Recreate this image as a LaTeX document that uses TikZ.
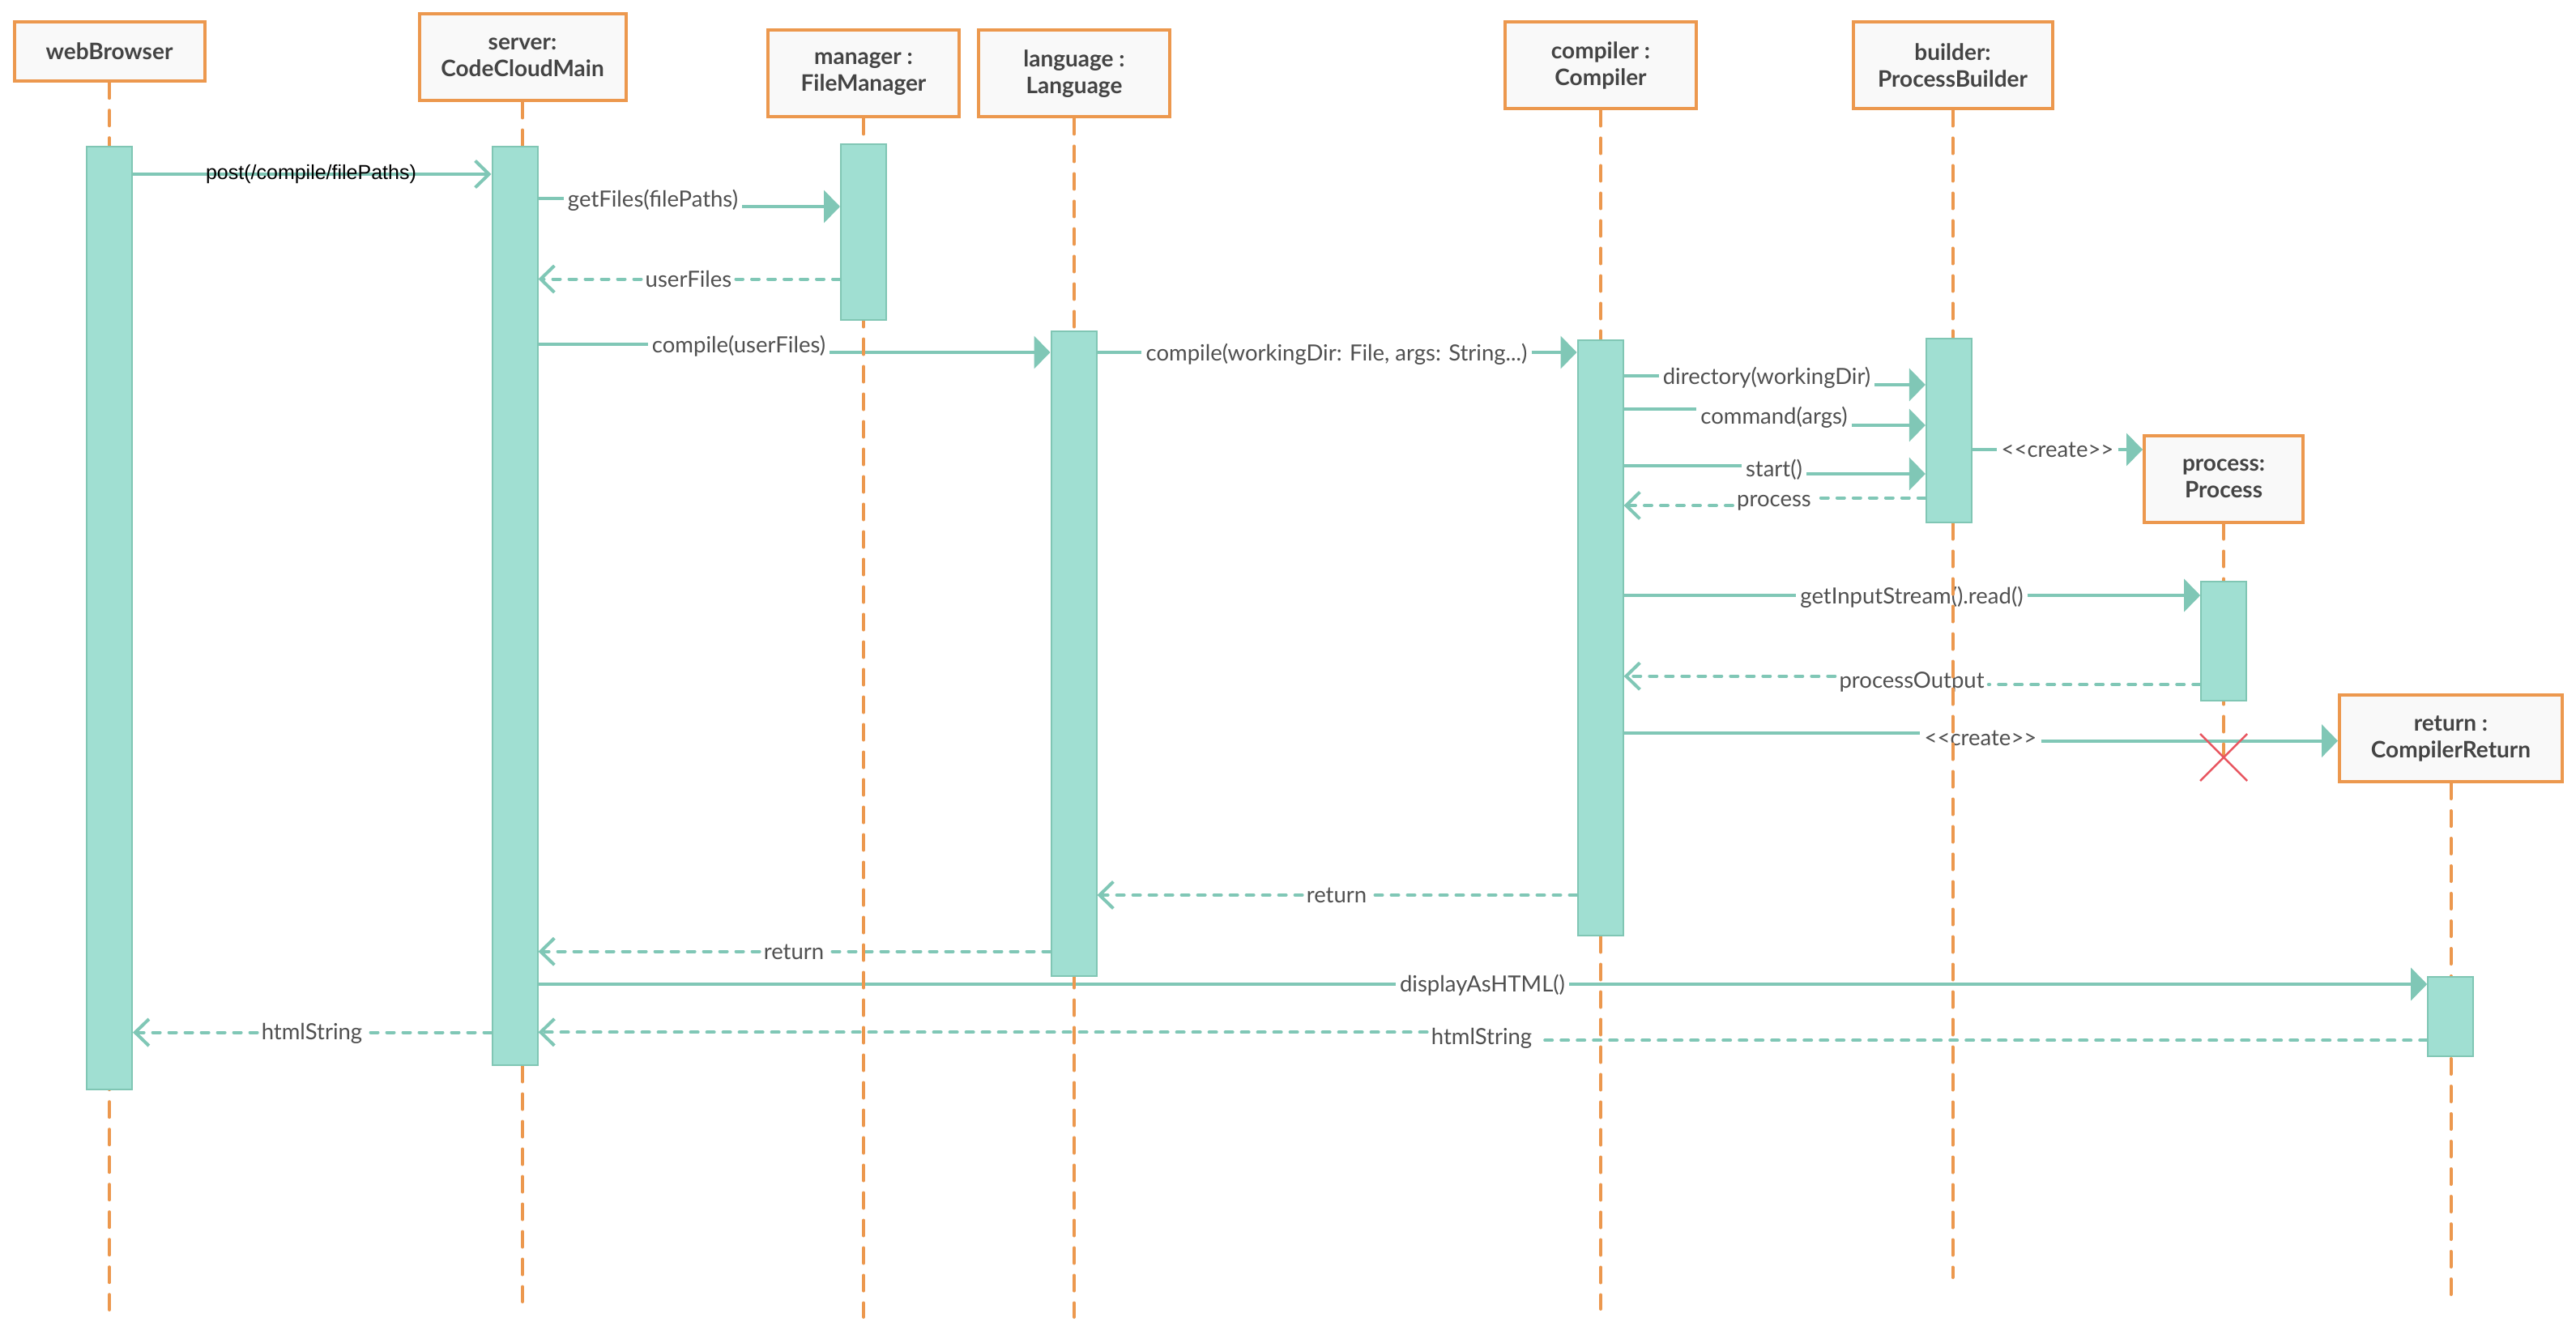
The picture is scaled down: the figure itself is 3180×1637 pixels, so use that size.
\documentclass[tikz,border=0pt]{standalone}
\usepackage{fontspec}
\setmainfont{Lato}
\newfontfamily\arialfont{Liberation Sans}
\usetikzlibrary{arrows.meta}
\definecolor{lifeorange}{RGB}{236,152,78}
\definecolor{boxfill}{RGB}{249,249,249}
\definecolor{titlegray}{RGB}{68,68,68}
\definecolor{labelgray}{RGB}{80,80,80}
\definecolor{actfill}{RGB}{160,223,210}
\definecolor{actborder}{RGB}{128,198,180}
\definecolor{msgteal}{RGB}{128,199,182}
\definecolor{xred}{RGB}{232,86,96}
\pgfdeclarelayer{msgs}
\pgfdeclarelayer{lifes}
\pgfsetlayers{msgs,lifes,main}
\begin{document}
\begin{tikzpicture}[x=1pt,y=-1pt,
  obj/.style={draw=lifeorange, line width=4pt, fill=boxfill, text=titlegray,
    font=\fontsize{28}{33}\selectfont\bfseries, align=center, inner sep=0pt},
  act/.style={draw=actborder, line width=2pt, fill=actfill, inner sep=0pt,
    minimum width=56pt, anchor=north},
  life/.style={draw=lifeorange, line width=4pt, line cap=round, dash pattern=on 19pt off 15pt},
  msg/.style={draw=msgteal, line width=4pt},
  retmsg/.style={msg, line cap=round, dash pattern=on 9pt off 11pt},
  synarr/.style={-{Triangle[length=20pt,width=40pt]}},
  openarr/.style={-{Straight Barb[length=17pt,width=33pt]}},
  lbl/.style={text=labelgray, font=\fontsize{27.5}{32}\selectfont, inner xsep=5pt, inner ysep=0pt}
]
\begin{pgfonlayer}{msgs}
\fill[white] (0,0) rectangle (3180,1637);
\end{pgfonlayer}
\useasboundingbox (0,0) rectangle (3180,1637);

% object boxes
\node[obj, minimum width=235pt, minimum height=73pt] (wb) at (135,63.7) {webBrowser};
\node[obj, minimum width=255pt, minimum height=107pt] (srv) at (645,71) {server:\\CodeCloudMain};
\node[obj, minimum width=236pt, minimum height=107pt] (mgr) at (1066,91) {manager :\\FileManager};
\node[obj, minimum width=236pt, minimum height=107pt] (lng) at (1326,91) {language :\\Language};
\node[obj, minimum width=236pt, minimum height=107pt] (cmp) at (1976,81) {compiler :\\Compiler};
\node[obj, minimum width=246pt, minimum height=107pt] (bld) at (2410.5,81) {builder:\\ProcessBuilder};
\node[obj, minimum width=196pt, minimum height=107pt] (prc) at (2745,591) {process:\\Process};
\node[obj, minimum width=275pt, minimum height=107pt] (rtn) at (3025.5,911.5) {return :\\CompilerReturn};

% activation bars
\node[act, minimum height=1164pt] (wbA) at (135,180) {};
\node[act, minimum height=1134pt] (srvA) at (635.5,180) {};
\node[act, minimum height=217pt] (mgrA) at (1066,177) {};
\node[act, minimum height=796pt] (lngA) at (1325.5,408) {};
\node[act, minimum height=735pt] (cmpA) at (1975.5,418.5) {};
\node[act, minimum height=227pt] (bldA) at (2405.8,416.7) {};
\node[act, minimum height=147pt] (prcA) at (2745.2,716.6) {};
\node[act, minimum height=98pt] (retA) at (3025.2,1205.3) {};

% lifelines
\begin{pgfonlayer}{lifes}
\draw[life] (wb.south) -- (wb.south |- 0,1617);
\draw[life] (srv.south) -- (srv.south |- 0,1607);
\draw[life] (mgr.south) -- (mgr.south |- 0,1626);
\draw[life] (lng.south) -- (lng.south |- 0,1626);
\draw[life] (cmp.south) -- (cmp.south |- 0,1616);
\draw[life] (bld.south) -- (bld.south |- 0,1577);
\draw[life] (prc.south) -- (prc.south |- 0,935);
\draw[life] (rtn.south) -- (rtn.south |- 0,1598);
\end{pgfonlayer}

% messages
\begin{pgfonlayer}{msgs}
% post
\draw[msg,openarr] (wbA.east |- 0,215) -- (srvA.west |- 0,215);
\node[font=\arialfont\fontsize{25}{30}\selectfont, text=black, inner sep=0pt] (l1) at (384,215) {post(/compile/filePaths)};
% getFiles
\node[lbl] (l2) at (806,247) {getFiles(filePaths)};
\draw[msg] (srvA.east |- 0,245) -- (l2.west |- 0,245);
\draw[msg,synarr] (l2.east |- 0,255) -- (mgrA.west |- 0,255);
% userFiles
\node[lbl] (l3) at (850,344.5) {userFiles};
\draw[retmsg] (mgrA.west |- 0,344.5) -- (l3.east |- 0,344.5);
\draw[retmsg,openarr] (l3.west |- 0,344.5) -- (srvA.east |- 0,344.5);
% compile(userFiles)
\node[lbl] (l4) at (912,427) {compile(userFiles)};
\draw[msg] (srvA.east |- 0,425) -- (l4.west |- 0,425);
\draw[msg,synarr] (l4.east |- 0,435) -- (lngA.west |- 0,435);
% compile(workingDir...)
\node[lbl] (l5) at (1650,437) {compile(workingDir: File, args: String...)};
\draw[msg] (lngA.east |- 0,435) -- (l5.west |- 0,435);
\draw[msg,synarr] (l5.east |- 0,435) -- (cmpA.west |- 0,435);
% directory
\node[lbl] (l6) at (2181,466) {directory(workingDir)};
\draw[msg] (cmpA.east |- 0,464) -- (l6.west |- 0,464);
\draw[msg,synarr] (l6.east |- 0,475) -- (bldA.west |- 0,475);
% command
\node[lbl] (l7) at (2190,515) {command(args)};
\draw[msg] (cmpA.east |- 0,505) -- (l7.west |- 0,505);
\draw[msg,synarr] (l7.east |- 0,525) -- (bldA.west |- 0,525);
% start
\node[lbl] (l8) at (2190,580) {start()};
\draw[msg] (cmpA.east |- 0,575) -- (l8.west |- 0,575);
\draw[msg,synarr] (l8.east |- 0,585) -- (bldA.west |- 0,585);
% process return
\node[lbl] (l9) at (2190,621) {process};
\draw[retmsg] (bldA.west |- 0,614.6) -- (l9.east |- 0,614.6);
\draw[retmsg,openarr] (l9.west |- 0,624) -- (cmpA.east |- 0,624);
% create process
\node[lbl] (l10) at (2540,555) {<{}<create>{}>};
\draw[msg] (bldA.east |- 0,555) -- (l10.west |- 0,555);
\draw[msg,synarr] (l10.east |- 0,555) -- (prc.west |- 0,555);
% getInputStream
\node[lbl] (l11) at (2360,737) {getInputStream().read()};
\draw[msg] (cmpA.east |- 0,735) -- (l11.west |- 0,735);
\draw[msg,synarr] (l11.east |- 0,735) -- (prcA.west |- 0,735);
% processOutput
\node[lbl] (l12) at (2360,842) {processOutput};
\draw[retmsg] (prcA.west |- 0,845) -- (l12.east |- 0,845);
\draw[retmsg,openarr] (l12.west |- 0,834.7) -- (cmpA.east |- 0,834.7);
% create return
\node[lbl] (l13) at (2445,911) {<{}<create>{}>};
\draw[msg] (cmpA.east |- 0,904.7) -- (l13.west |- 0,904.7);
\draw[msg,synarr] (l13.east |- 0,914.6) -- (rtn.west |- 0,914.6);
% return compiler -> language
\node[lbl] (l15) at (1650,1105) {return};
\draw[retmsg] (cmpA.west |- 0,1105) -- (l15.east |- 0,1105);
\draw[retmsg,openarr] (l15.west |- 0,1105) -- (lngA.east |- 0,1105);
% return language -> server
\node[lbl] (l16) at (980,1175) {return};
\draw[retmsg] (lngA.west |- 0,1174.7) -- (l16.east |- 0,1174.7);
\draw[retmsg,openarr] (l16.west |- 0,1174.7) -- (srvA.east |- 0,1174.7);
% displayAsHTML
\node[lbl] (l17) at (1830,1216) {displayAsHTML()};
\draw[msg] (srvA.east |- 0,1215) -- (l17.west |- 0,1215);
\draw[msg,synarr] (l17.east |- 0,1215) -- (retA.west |- 0,1215);
% htmlString return -> server
\node[lbl] (l18) at (1829,1282) {htmlString};
\draw[retmsg] (retA.west |- 0,1284.3) -- (l18.east |- 0,1284.3);
\draw[retmsg,openarr] (l18.west |- 0,1274.3) -- (srvA.east |- 0,1274.3);
% htmlString server -> webBrowser
\node[lbl] (l19) at (385,1276) {htmlString};
\draw[retmsg] (srvA.west |- 0,1274.6) -- (l19.east |- 0,1274.6);
\draw[retmsg,openarr] (l19.west |- 0,1274.6) -- (wbA.east |- 0,1274.6);
\end{pgfonlayer}

% destruction mark
\coordinate (xend) at (2745,935);
\draw[xred, line width=2.5pt] (xend) +(-29,-29) -- +(29,29) (xend) +(-29,29) -- +(29,-29);
\end{tikzpicture}
\end{document}
